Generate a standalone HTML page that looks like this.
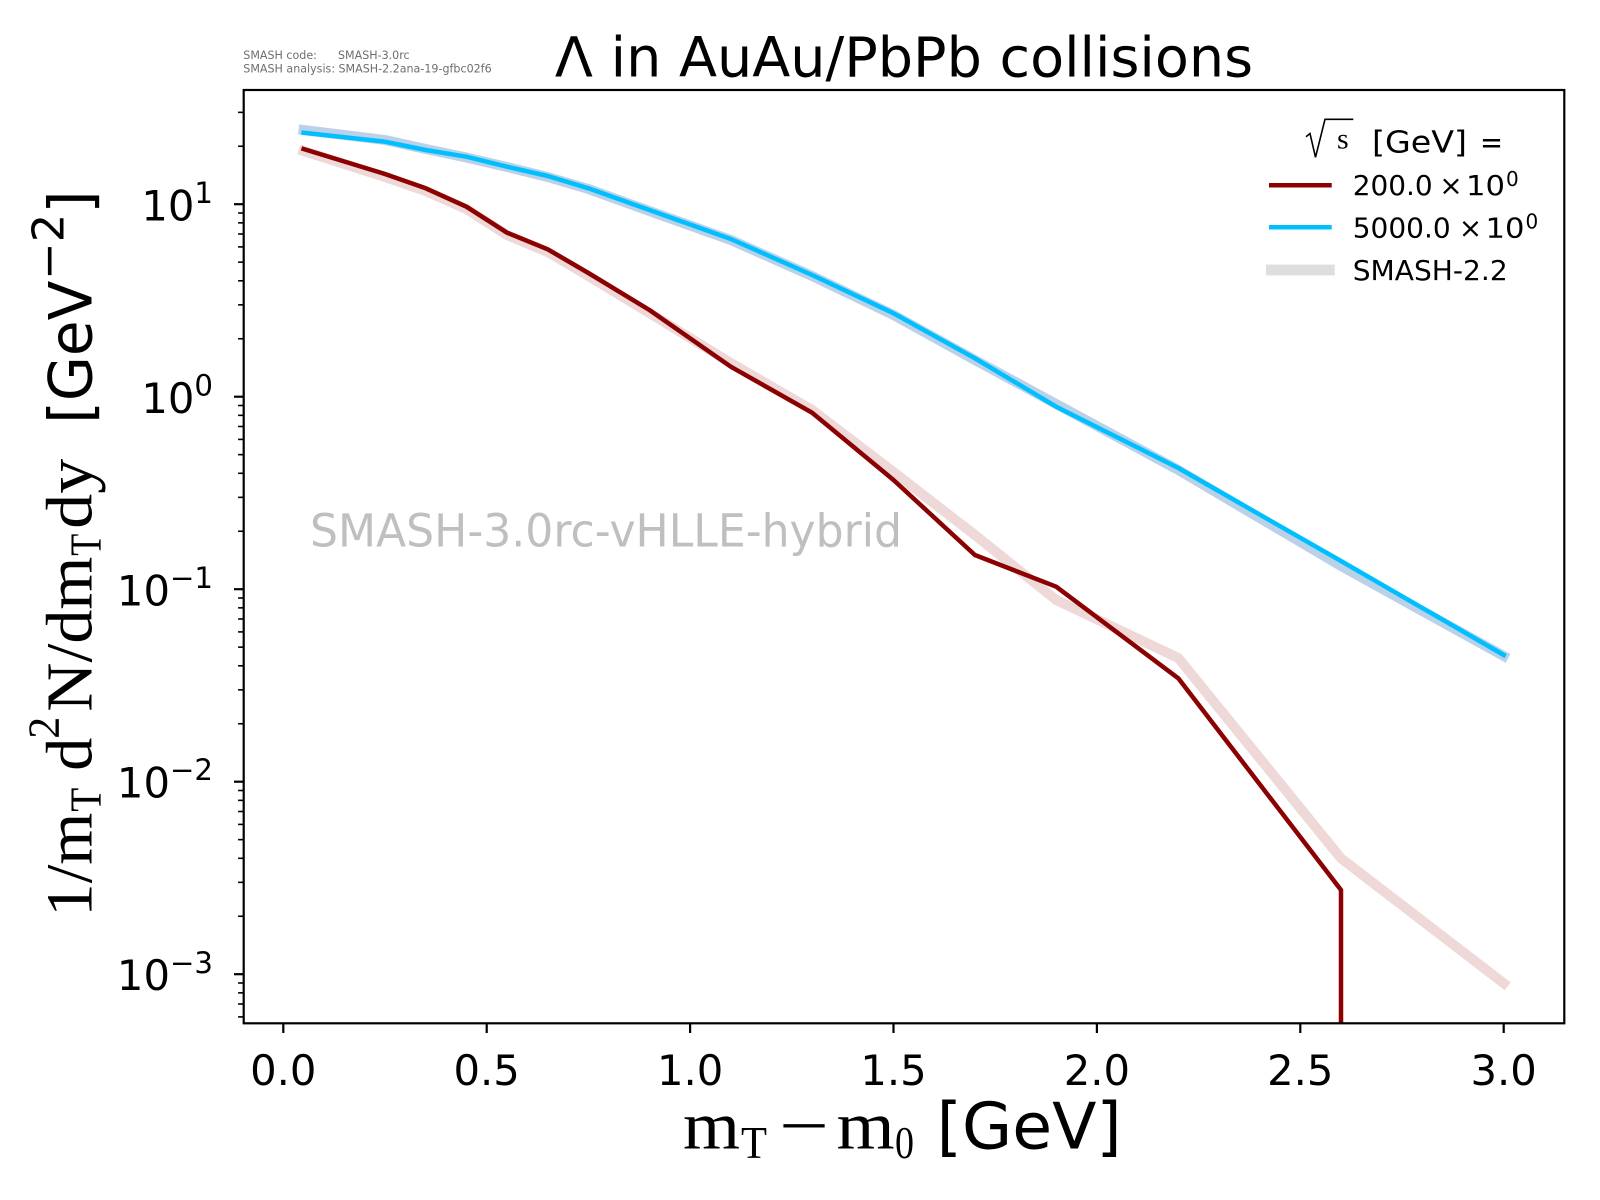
<!DOCTYPE html>
<html>
<head>
<meta charset="utf-8">
<style>
html,body{margin:0;padding:0;background:#ffffff;}
svg{display:block;}
</style>
</head>
<body>
<svg xmlns="http://www.w3.org/2000/svg" width="1600" height="1200" viewBox="0 0 1600 1200">
<rect x="0" y="0" width="1600" height="1200" fill="#ffffff"/>
<defs>
<clipPath id="ax"><rect x="243.7" y="90" width="1320.6" height="933.3"/></clipPath>
</defs>

<!-- top-left info text -->
<g font-family="DejaVu Sans, Liberation Sans, sans-serif" font-size="11.1" fill="#6e6e6e">
<text x="243.3" y="59">SMASH code:</text>
<text x="338" y="59">SMASH-3.0rc</text>
<text x="243.3" y="72.3">SMASH analysis:</text>
<text x="338.5" y="72.3">SMASH-2.2ana-19-gfbc02f6</text>
</g>

<!-- title -->
<text x="904" y="76.7" text-anchor="middle" font-family="DejaVu Sans, Liberation Sans, sans-serif" font-size="55.6" fill="#000">Λ in AuAu/PbPb collisions</text>

<!-- watermark -->
<text x="310" y="546.7" font-family="DejaVu Sans, Liberation Sans, sans-serif" font-size="45.7" fill="#bfbfbf" textLength="592" lengthAdjust="spacingAndGlyphs">SMASH-3.0rc-vHLLE-hybrid</text>

<!-- data -->
<g clip-path="url(#ax)" fill="none" stroke-linejoin="round" stroke-linecap="square">
<polyline stroke="#eed8d8" stroke-width="10" points="303.6,151 385,177 425.7,191 466.4,209 507,235 547.7,252 588.4,276 649.4,313 730.8,363 812.1,410 893.5,472 974.9,535 1056.2,600 1178.3,658 1341,858.3 1503.7,983.3"/>
<polyline stroke="#bad1e8" stroke-width="10" points="303.6,130 385,140 425.7,149 466.4,157.5 507,167 547.7,177 588.4,189 649.4,211 730.8,240 812.1,276 893.5,315 974.9,360 1056.2,404 1178.3,470 1341,566 1503.7,656"/>
<polyline stroke="#8b0000" stroke-width="4.5" points="303.6,149 385,174 425.7,188.3 466.4,206.7 507,232.7 547.7,249.3 588.4,273 649.4,310 730.8,366.7 812.1,412.7 893.5,480 974.9,555 1056.2,586.7 1178.3,678.3 1341,890 1341,1040"/>
<polyline stroke="#00bfff" stroke-width="4.5" points="303.6,132.7 385,141.7 425.7,150 466.4,156.7 507,166.7 547.7,176 588.4,188.3 649.4,210 730.8,239 812.1,275 893.5,313.3 974.9,358.3 1056.2,406.7 1178.3,468 1341,561 1503.7,655"/>
</g>

<!-- spines -->
<rect x="243.7" y="90" width="1320.6" height="933.3" fill="none" stroke="#000" stroke-width="2.2"/>

<!-- x ticks -->
<g stroke="#000" stroke-width="2.2">
<line x1="283.3" y1="1023.3" x2="283.3" y2="1033"/>
<line x1="486.7" y1="1023.3" x2="486.7" y2="1033"/>
<line x1="690.1" y1="1023.3" x2="690.1" y2="1033"/>
<line x1="893.5" y1="1023.3" x2="893.5" y2="1033"/>
<line x1="1096.9" y1="1023.3" x2="1096.9" y2="1033"/>
<line x1="1300.3" y1="1023.3" x2="1300.3" y2="1033"/>
<line x1="1503.7" y1="1023.3" x2="1503.7" y2="1033"/>
</g>
<g font-family="DejaVu Sans, Liberation Sans, sans-serif" font-size="41.7" fill="#000" text-anchor="middle">
<text x="283.3" y="1085">0.0</text>
<text x="486.7" y="1085">0.5</text>
<text x="690.1" y="1085">1.0</text>
<text x="893.5" y="1085">1.5</text>
<text x="1096.9" y="1085">2.0</text>
<text x="1300.3" y="1085">2.5</text>
<text x="1503.7" y="1085">3.0</text>
</g>

<!-- y major ticks -->
<g stroke="#000" stroke-width="2.2">
<line x1="234" y1="204.2" x2="243.7" y2="204.2"/>
<line x1="234" y1="396.7" x2="243.7" y2="396.7"/>
<line x1="234" y1="589.2" x2="243.7" y2="589.2"/>
<line x1="234" y1="781.7" x2="243.7" y2="781.7"/>
<line x1="234" y1="974.2" x2="243.7" y2="974.2"/>
</g>
<!-- y minor ticks -->
<g stroke="#000" stroke-width="1.6">
<line x1="238.1" y1="146.25" x2="243.7" y2="146.25"/>
<line x1="238.1" y1="112.35" x2="243.7" y2="112.35"/>
<line x1="238.1" y1="338.75" x2="243.7" y2="338.75"/>
<line x1="238.1" y1="304.85" x2="243.7" y2="304.85"/>
<line x1="238.1" y1="280.8" x2="243.7" y2="280.8"/>
<line x1="238.1" y1="262.15" x2="243.7" y2="262.15"/>
<line x1="238.1" y1="246.9" x2="243.7" y2="246.9"/>
<line x1="238.1" y1="234" x2="243.7" y2="234"/>
<line x1="238.1" y1="222.85" x2="243.7" y2="222.85"/>
<line x1="238.1" y1="213" x2="243.7" y2="213"/>
<line x1="238.1" y1="531.25" x2="243.7" y2="531.25"/>
<line x1="238.1" y1="497.35" x2="243.7" y2="497.35"/>
<line x1="238.1" y1="473.3" x2="243.7" y2="473.3"/>
<line x1="238.1" y1="454.65" x2="243.7" y2="454.65"/>
<line x1="238.1" y1="439.4" x2="243.7" y2="439.4"/>
<line x1="238.1" y1="426.5" x2="243.7" y2="426.5"/>
<line x1="238.1" y1="415.35" x2="243.7" y2="415.35"/>
<line x1="238.1" y1="405.5" x2="243.7" y2="405.5"/>
<line x1="238.1" y1="723.75" x2="243.7" y2="723.75"/>
<line x1="238.1" y1="689.85" x2="243.7" y2="689.85"/>
<line x1="238.1" y1="665.8" x2="243.7" y2="665.8"/>
<line x1="238.1" y1="647.15" x2="243.7" y2="647.15"/>
<line x1="238.1" y1="631.9" x2="243.7" y2="631.9"/>
<line x1="238.1" y1="619" x2="243.7" y2="619"/>
<line x1="238.1" y1="607.85" x2="243.7" y2="607.85"/>
<line x1="238.1" y1="598" x2="243.7" y2="598"/>
<line x1="238.1" y1="916.25" x2="243.7" y2="916.25"/>
<line x1="238.1" y1="882.35" x2="243.7" y2="882.35"/>
<line x1="238.1" y1="858.3" x2="243.7" y2="858.3"/>
<line x1="238.1" y1="839.65" x2="243.7" y2="839.65"/>
<line x1="238.1" y1="824.4" x2="243.7" y2="824.4"/>
<line x1="238.1" y1="811.5" x2="243.7" y2="811.5"/>
<line x1="238.1" y1="800.35" x2="243.7" y2="800.35"/>
<line x1="238.1" y1="790.5" x2="243.7" y2="790.5"/>
<line x1="238.1" y1="1016.9" x2="243.7" y2="1016.9"/>
<line x1="238.1" y1="1004" x2="243.7" y2="1004"/>
<line x1="238.1" y1="992.85" x2="243.7" y2="992.85"/>
<line x1="238.1" y1="983" x2="243.7" y2="983"/>
</g>
<!-- y tick labels -->
<g font-family="DejaVu Sans, Liberation Sans, sans-serif" font-size="41.7" fill="#000" text-anchor="end">
<text x="213" y="220.5">10<tspan font-size="29.2" dy="-17.4">1</tspan></text>
<text x="213" y="413">10<tspan font-size="29.2" dy="-17.4">0</tspan></text>
<text x="213" y="605.3">10<tspan font-size="29.2" dy="-17.4">−1</tspan></text>
<text x="213" y="797.6">10<tspan font-size="29.2" dy="-17.4">−2</tspan></text>
<text x="213" y="990.2">10<tspan font-size="29.2" dy="-17.4">−3</tspan></text>
</g>

<!-- x label -->
<g fill="#000">
<text x="683" y="1148.3" font-family="Liberation Serif, DejaVu Serif, serif" font-size="68" textLength="57" lengthAdjust="spacingAndGlyphs">m</text>
<text x="741" y="1158" font-family="Liberation Serif, DejaVu Serif, serif" font-size="46" textLength="26" lengthAdjust="spacingAndGlyphs">T</text>
<text x="779" y="1148.3" font-family="Liberation Serif, DejaVu Serif, serif" font-size="68" textLength="50" lengthAdjust="spacingAndGlyphs">−</text>
<text x="836.7" y="1148.3" font-family="Liberation Serif, DejaVu Serif, serif" font-size="68" textLength="58" lengthAdjust="spacingAndGlyphs">m</text>
<text x="895" y="1158" font-family="Liberation Serif, DejaVu Serif, serif" font-size="46" textLength="19" lengthAdjust="spacingAndGlyphs">0</text>
<text x="936.7" y="1148.3" font-family="DejaVu Sans, Liberation Sans, sans-serif" font-size="64" textLength="185" lengthAdjust="spacingAndGlyphs">[GeV]</text>
</g>

<!-- y label (rotated) -->
<g transform="translate(91.7,916.7) rotate(-90)" fill="#000">
<text x="0" y="0" font-family="Liberation Serif, DejaVu Serif, serif" font-size="66" textLength="104" lengthAdjust="spacingAndGlyphs">1/m</text>
<text x="105" y="9" font-family="Liberation Serif, DejaVu Serif, serif" font-size="44" textLength="24" lengthAdjust="spacingAndGlyphs">T</text>
<text x="146" y="0" font-family="Liberation Serif, DejaVu Serif, serif" font-size="66" textLength="33" lengthAdjust="spacingAndGlyphs">d</text>
<text x="178" y="-33" font-family="Liberation Serif, DejaVu Serif, serif" font-size="44" textLength="22" lengthAdjust="spacingAndGlyphs">2</text>
<text x="205" y="0" font-family="Liberation Serif, DejaVu Serif, serif" font-size="66" textLength="155" lengthAdjust="spacingAndGlyphs">N/dm</text>
<text x="361" y="9" font-family="Liberation Serif, DejaVu Serif, serif" font-size="44" textLength="22" lengthAdjust="spacingAndGlyphs">T</text>
<text x="388" y="0" font-family="Liberation Serif, DejaVu Serif, serif" font-size="66" textLength="70" lengthAdjust="spacingAndGlyphs">dy</text>
<text x="493" y="0" font-family="DejaVu Sans, Liberation Sans, sans-serif" font-size="60" textLength="143" lengthAdjust="spacingAndGlyphs">[GeV</text>
<text x="637" y="-28" font-family="DejaVu Sans, Liberation Sans, sans-serif" font-size="44" textLength="66" lengthAdjust="spacingAndGlyphs">−2</text>
<text x="703" y="0" font-family="DejaVu Sans, Liberation Sans, sans-serif" font-size="60">]</text>
</g>

<!-- legend -->
<path d="M1306,136.7 L1310,133.5 L1315.5,157.3 L1325,119.3 L1353.3,119.3" fill="none" stroke="#000" stroke-width="1.6" stroke-linejoin="miter"/>
<text x="1337" y="148.3" font-family="Liberation Serif, DejaVu Serif, serif" font-size="30" fill="#000">s</text>
<text x="1372" y="152.7" font-family="DejaVu Sans, Liberation Sans, sans-serif" font-size="30" fill="#000" textLength="95" lengthAdjust="spacingAndGlyphs">[GeV]</text>
<text x="1480" y="152.7" font-family="DejaVu Sans, Liberation Sans, sans-serif" font-size="30" fill="#000" textLength="23" lengthAdjust="spacingAndGlyphs">=</text>

<line x1="1269" y1="185.3" x2="1331.7" y2="185.3" stroke="#8b0000" stroke-width="4.5"/>
<line x1="1269" y1="227.3" x2="1331.7" y2="227.3" stroke="#00bfff" stroke-width="4.5"/>
<line x1="1266" y1="270" x2="1334.7" y2="270" stroke="#dedede" stroke-width="10.7"/>

<g font-family="DejaVu Sans, Liberation Sans, sans-serif" font-size="28" fill="#000">
<text x="1352.7" y="195" textLength="80" lengthAdjust="spacingAndGlyphs">200.0</text>
<text x="1451" y="195" text-anchor="middle">×</text>
<text x="1466" y="195" textLength="39" lengthAdjust="spacingAndGlyphs">10</text>
<text x="1506" y="186" font-size="20">0</text>
<text x="1352.7" y="237.3" textLength="98" lengthAdjust="spacingAndGlyphs">5000.0</text>
<text x="1470.5" y="237.3" text-anchor="middle">×</text>
<text x="1485.5" y="237.3" textLength="39" lengthAdjust="spacingAndGlyphs">10</text>
<text x="1525.5" y="228.3" font-size="20">0</text>
<text x="1352.7" y="280" textLength="155" lengthAdjust="spacingAndGlyphs">SMASH-2.2</text>
</g>
</svg>
</body>
</html>
